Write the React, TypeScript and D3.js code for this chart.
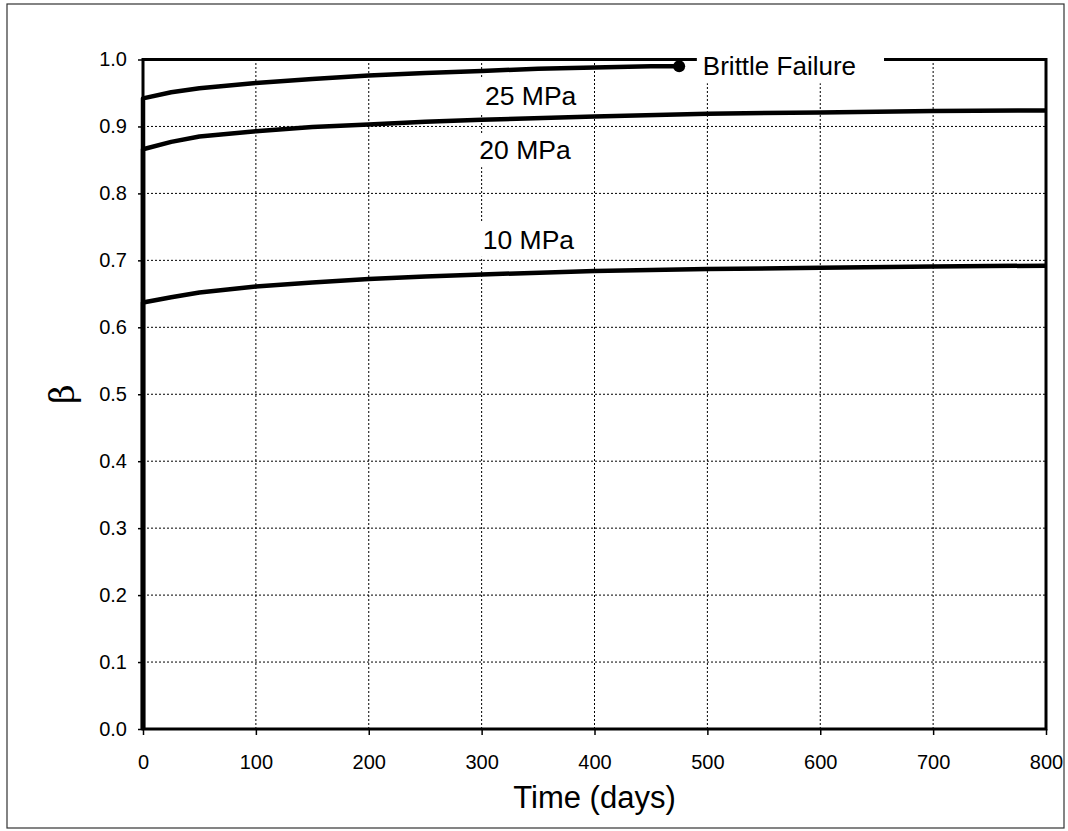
import React, { useRef, useEffect } from "react";
import * as d3 from "d3";

// time in days
const days25 = [0, 0, 25, 50, 100, 150, 200, 250, 300, 350, 400, 450, 475];
const beta25 = [0, 0.942, 0.951, 0.957, 0.965, 0.971, 0.976, 0.98, 0.983, 0.986, 0.988, 0.99, 0.99];

const days20 = [0, 0, 25, 50, 100, 150, 200, 250, 300, 400, 500, 600, 700, 800];
const beta20 = [0, 0.866, 0.877, 0.885, 0.893, 0.899, 0.903, 0.907, 0.91, 0.915, 0.919, 0.921, 0.923, 0.924];

const days10 = [0, 0, 25, 50, 100, 150, 200, 250, 300, 400, 500, 600, 700, 800];
const beta10 = [0, 0.637, 0.645, 0.652, 0.661, 0.667, 0.672, 0.676, 0.679, 0.684, 0.687, 0.689, 0.691, 0.692];

const xTicks = [0, 100, 200, 300, 400, 500, 600, 700, 800];
const yTicks = [0, 0.1, 0.2, 0.3, 0.4, 0.5, 0.6, 0.7, 0.8, 0.9, 1.0];

const labelText = ["25 MPa", "20 MPa", "10 MPa", "Brittle Failure"];
const labelDay = [303, 298, 301, 496];
const labelBeta = [0.946, 0.865, 0.731, 0.99];

const FONT = "'Liberation Sans', Arial, sans-serif";

const App = () => {
  const ref = useRef<SVGSVGElement>(null);

  useEffect(() => {
    const width = 1068;
    const height = 831;
    const svg = d3.select(ref.current);
    svg.selectAll("*").remove();
    svg.attr("width", width).attr("height", height);

    const x = d3.scaleLinear().domain([0, 800]).range([143, 1046]);
    const y = d3.scaleLinear().domain([0, 1]).range([729, 59.5]);

    svg.append("rect").attr("width", width).attr("height", height).attr("fill", "#fff");

    // outer border
    svg.append("rect")
      .attr("x", 7).attr("y", 4).attr("width", 1057).attr("height", 824)
      .attr("fill", "none").attr("stroke", "#333").attr("stroke-width", 1.2);

    // grid
    const grid = svg.append("g").attr("stroke", "#000").attr("stroke-width", 1).attr("stroke-dasharray", "2,2");
    grid.selectAll("line.h").data(yTicks.slice(1, -1)).enter().append("line")
      .attr("x1", x(0)).attr("x2", x(800)).attr("y1", d => y(d)).attr("y2", d => y(d));
    grid.selectAll("line.v").data(xTicks.slice(1, -1)).enter().append("line")
      .attr("y1", y(0)).attr("y2", y(1)).attr("x1", d => x(d)).attr("x2", d => x(d));

    // axes
    const xAxis = svg.append("g").attr("transform", `translate(0,${y(0)})`)
      .call(d3.axisBottom(x).tickValues(xTicks).tickSize(6).tickSizeOuter(0).tickPadding(20));
    const yAxis = svg.append("g").attr("transform", `translate(${x(0)},0)`)
      .call(d3.axisLeft(y).tickValues(yTicks).tickFormat(d3.format(".1f")).tickSize(5).tickSizeOuter(0).tickPadding(11));
    [xAxis, yAxis].forEach(a => {
      a.select(".domain").remove();
      a.selectAll(".tick line").attr("stroke", "#000").attr("stroke-width", 1.5);
      a.selectAll(".tick text").attr("font-family", FONT).attr("font-size", 20).attr("fill", "#000");
    });

    // plot frame
    svg.append("rect")
      .attr("x", x(0)).attr("y", y(1)).attr("width", x(800) - x(0)).attr("height", y(0) - y(1))
      .attr("fill", "none").attr("stroke", "#000").attr("stroke-width", 3);

    // curve labels with white boxes that cut the grid and frame
    const labels = svg.append("g");
    labelText.forEach((t, i) => {
      const brittle = i === 3;
      const tx = labels.append("text")
        .attr("x", x(labelDay[i])).attr("y", y(labelBeta[i]))
        .attr("dy", "0.35em")
        .attr("font-family", FONT).attr("font-size", brittle ? 26 : 26.5).attr("fill", "#000")
        .text(t);
      const bb = (tx.node() as SVGTextElement).getBBox();
      const padX = brittle ? 6 : 4;
      labels.insert("rect", "text")
        .attr("x", bb.x - padX).attr("y", brittle ? bb.y - 12 : bb.y - 2)
        .attr("width", bb.width + padX + (brittle ? 28 : 4))
        .attr("height", brittle ? bb.height + 14 : bb.height + 4)
        .attr("fill", "#fff");
    });

    const series = [
      [days25, beta25],
      [days20, beta20],
      [days10, beta10],
    ];
    const gen = d3.line<[number, number]>().x(d => x(d[0])).y(d => y(d[1]));
    series.forEach(([dx, dy]) => {
      const pts = dx.map((d, j) => [d, dy[j]] as [number, number]);
      svg.append("path")
        .datum(pts)
        .attr("fill", "none")
        .attr("stroke", "#000")
        .attr("stroke-width", 4.5)
        .attr("stroke-linejoin", "round")
        .attr("d", gen);
    });

    // brittle failure point
    svg.append("circle")
      .attr("cx", x(days25[days25.length - 1]))
      .attr("cy", y(beta25[beta25.length - 1]))
      .attr("r", 6)
      .attr("fill", "#000");

    labels.raise();

    // axis titles
    svg.append("text")
      .attr("x", (x(0) + x(800)) / 2).attr("y", 797).attr("dy", "0.35em")
      .attr("text-anchor", "middle")
      .attr("font-family", FONT).attr("font-size", 31)
      .text("Time (days)");

    svg.append("text")
      .attr("transform", `translate(62,${y(0.5)}) rotate(-90)`)
      .attr("text-anchor", "middle").attr("dy", "0.35em")
      .attr("font-family", "'DejaVu Serif', 'Liberation Serif', serif").attr("font-size", 34)
      .text("β");
  }, []);

  return <svg ref={ref} style={{ position: "absolute", left: 0, top: 0, display: "block" }}></svg>;
};

export default App;
